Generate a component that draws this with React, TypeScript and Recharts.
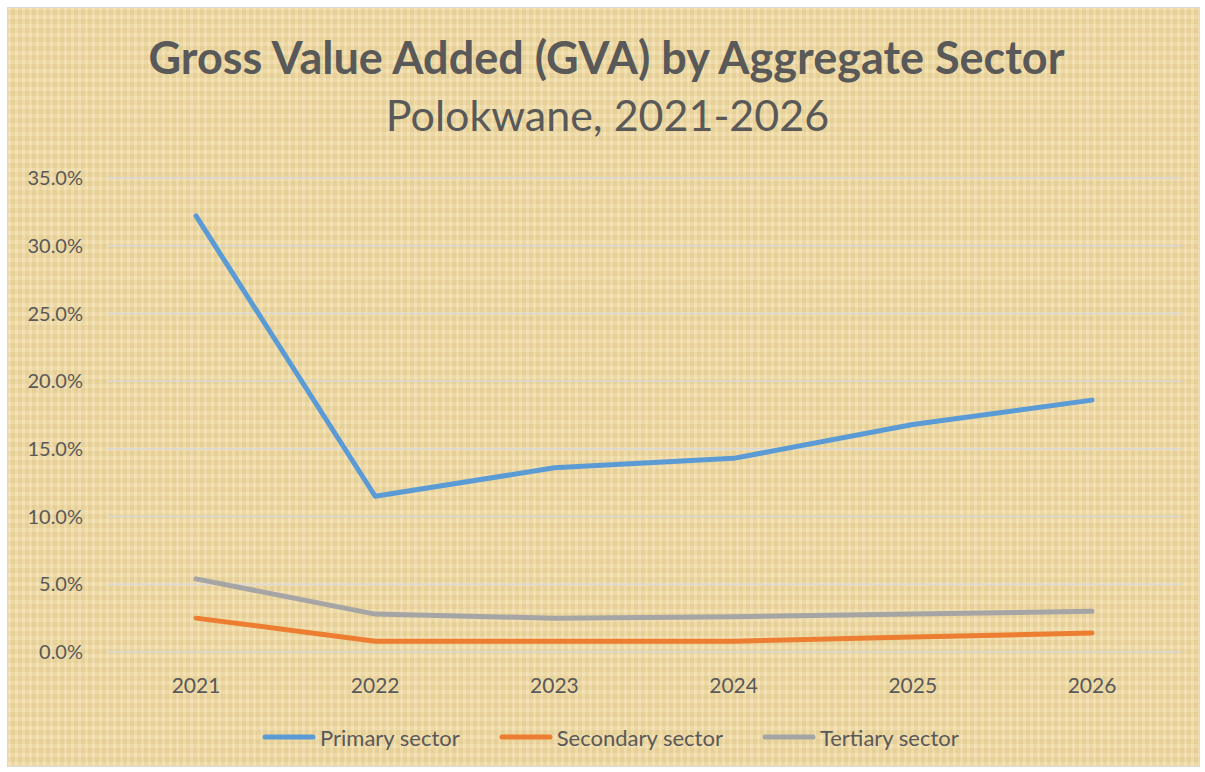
import React from "react";
import { LineChart, Line, XAxis, YAxis, CartesianGrid } from "recharts";

const years = ["2021", "2022", "2023", "2024", "2025", "2026"];
const primary = [32.2, 11.5, 13.6, 14.3, 16.8, 18.6];
const secondary = [2.5, 0.8, 0.8, 0.8, 1.1, 1.4];
const tertiary = [5.4, 2.8, 2.5, 2.6, 2.8, 3.0];
const yTicks = [0, 5, 10, 15, 20, 25, 30, 35];

const series = [
  { key: "primary", name: "Primary sector", color: "#5B9BD5" },
  { key: "secondary", name: "Secondary sector", color: "#ED7D31" },
  { key: "tertiary", name: "Tertiary sector", color: "#A5A5A5" },
];

const data = years.map((year, i) => ({
  year,
  primary: primary[i],
  secondary: secondary[i],
  tertiary: tertiary[i],
}));

const FONT = "Lato, 'Open Sans', sans-serif";
const TEXT = "#595959";

export default function App() {
  return (
    <div
      style={{
        position: "absolute",
        left: 0,
        top: 0,
        width: 1205,
        height: 772,
        background: "#fff",
      }}
    >
      {/* parchment-ish chart area */}
      <div
        style={{
          position: "absolute",
          left: 7,
          top: 7,
          width: 1191,
          height: 758,
          border: "1px solid #d9d9d9",
          background:
            "repeating-linear-gradient(90deg, rgba(255,240,205,0.25) 0px, rgba(255,240,205,0.25) 3px, rgba(210,185,110,0.12) 3px, rgba(210,185,110,0.12) 7px), repeating-linear-gradient(0deg, rgba(255,245,215,0.2) 0px, rgba(255,245,215,0.2) 4px, rgba(200,175,100,0.1) 4px, rgba(200,175,100,0.1) 9px), #ECD7A3",
        }}
      />
      <div
        style={{
          position: "absolute",
          left: 4,
          top: 30,
          width: 1205,
          textAlign: "center",
          fontFamily: FONT,
          fontWeight: 700,
          fontSize: 45,
          color: TEXT,
          lineHeight: "54px",
        }}
      >
        Gross Value Added (GVA) by Aggregate Sector
      </div>
      <div
        style={{
          position: "absolute",
          left: 5,
          top: 89,
          width: 1205,
          textAlign: "center",
          fontFamily: FONT,
          fontSize: 43,
          color: TEXT,
          lineHeight: "52px",
        }}
      >
        Polokwane, 2021-2026
      </div>
      <div style={{ position: "absolute", left: 0, top: 0 }}>
        <LineChart
          width={1205}
          height={772}
          data={data}
          margin={{ top: 178, right: 24, bottom: 60, left: 27 }}
        >
          <CartesianGrid vertical={false} stroke="#D9D9D9" strokeWidth={1.5} />
          <XAxis
            dataKey="year"
            axisLine={false}
            tickLine={false}
            tickSize={0}
            tickMargin={26}
            padding={{ left: 89, right: 89 }}
            tick={{ fontFamily: FONT, fontSize: 21, fill: TEXT }}
            height={60}
          />
          <YAxis
            width={80}
            domain={[0, 35]}
            ticks={yTicks}
            axisLine={false}
            tickLine={false}
            tickSize={0}
            tickMargin={24}
            tickFormatter={(v: number) => `${v.toFixed(1)}%`}
            tick={{ fontFamily: FONT, fontSize: 20, fill: TEXT }}
          />
          {series.map((s) => (
            <Line
              key={s.key}
              type="linear"
              dataKey={s.key}
              name={s.name}
              stroke={s.color}
              strokeWidth={5}
              strokeLinecap="round"
              strokeLinejoin="round"
              dot={false}
              activeDot={false}
              isAnimationActive={false}
            />
          ))}
        </LineChart>
      </div>
      {/* legend */}
      <div
        style={{
          position: "absolute",
          left: 262,
          top: 723,
          height: 28,
          display: "flex",
          alignItems: "center",
          fontFamily: FONT,
          fontSize: 22,
          color: TEXT,
        }}
      >
        {series.map((s, i) => (
          <div
            key={s.key}
            style={{
              display: "flex",
              alignItems: "center",
              marginLeft: i === 0 ? 0 : 39,
            }}
          >
            <svg width={54} height={10} style={{ marginRight: 4 }}>
              <line
                x1={3}
                y1={5}
                x2={51}
                y2={5}
                stroke={s.color}
                strokeWidth={5}
                strokeLinecap="round"
              />
            </svg>
            <span>{s.name}</span>
          </div>
        ))}
      </div>
    </div>
  );
}
